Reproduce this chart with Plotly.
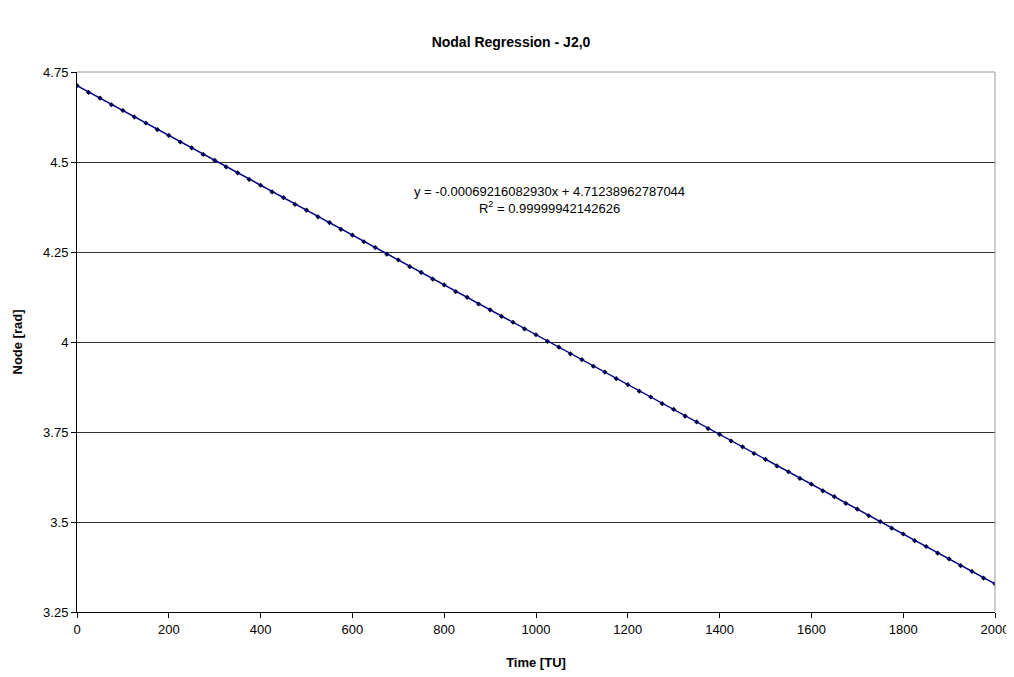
import plotly.graph_objects as go

time_tu = [0, 25, 50, 75, 100, 125, 150, 175, 200, 225, 250, 275, 300, 325, 350, 375,
           400, 425, 450, 475, 500, 525, 550, 575, 600, 625, 650, 675, 700, 725, 750,
           775, 800, 825, 850, 875, 900, 925, 950, 975, 1000, 1025, 1050, 1075, 1100,
           1125, 1150, 1175, 1200, 1225, 1250, 1275, 1300, 1325, 1350, 1375, 1400,
           1425, 1450, 1475, 1500, 1525, 1550, 1575, 1600, 1625, 1650, 1675, 1700,
           1725, 1750, 1775, 1800, 1825, 1850, 1875, 1900, 1925, 1950, 1975, 2000]
node_rad = [4.7124, 4.6935, 4.6776, 4.6590, 4.6430, 4.6248, 4.6084, 4.5902, 4.5738, 4.5555,
            4.5392, 4.5210, 4.5046, 4.4862, 4.4700, 4.4515, 4.4354, 4.4170, 4.4008, 4.3822,
            4.3662, 4.3478, 4.3316, 4.3131, 4.2970, 4.2785, 4.2624, 4.2440, 4.2278, 4.2093,
            4.1932, 4.1748, 4.1586, 4.1401, 4.1240, 4.1056, 4.0894, 4.0710, 4.0548, 4.0363,
            4.0202, 4.0018, 3.9856, 3.9671, 3.9510, 3.9326, 3.9164, 3.8980, 3.8818, 3.8633,
            3.8472, 3.8288, 3.8126, 3.7941, 3.7780, 3.7596, 3.7434, 3.7250, 3.7088, 3.6903,
            3.6742, 3.6558, 3.6396, 3.6211, 3.6050, 3.5866, 3.5704, 3.5520, 3.5358, 3.5173,
            3.5012, 3.4828, 3.4666, 3.4481, 3.4320, 3.4136, 3.3974, 3.3790, 3.3628, 3.3443,
            3.3283]

slope, intercept = -0.00069216082930, 4.71238962787044
fit_x = [0, 2000]
fit_y = [intercept + slope * v for v in fit_x]

fig = go.Figure()
fig.add_trace(go.Scatter(x=time_tu, y=node_rad, mode="markers",
                         marker=dict(symbol="diamond", size=4, color="#000022"),
                         showlegend=False))
fig.add_trace(go.Scatter(x=fit_x, y=fit_y, mode="lines",
                         line=dict(color="#000080", width=1.5), showlegend=False))

# gray frame on top and right, like the Excel plot area
fig.add_shape(type="line", xref="paper", yref="paper", x0=0, x1=1, y0=1, y1=1,
              line=dict(color="#9a9a9a", width=1))
fig.add_shape(type="line", xref="paper", yref="paper", x0=1, x1=1, y0=0, y1=1,
              line=dict(color="#9a9a9a", width=1))

fig.add_annotation(xref="paper", yref="paper", x=0.515, y=0.797,
                   text="y = -0.00069216082930x + 4.71238962787044<br>R<sup>2</sup> = 0.99999942142626",
                   showarrow=False, align="center",
                   font=dict(family="Liberation Sans, Arial", size=13, color="black"))

# the page body has an 8px margin, so the figure is shrunk by that much
fig.update_layout(
    title=dict(text="<b>Nodal Regression - J2,0</b>", x=0.5, xanchor="center",
               y=1 - 34 / 669, yanchor="middle",
               font=dict(family="Liberation Sans, Arial", size=14, color="black")),
    width=1006, height=669,
    margin=dict(l=69, r=19, t=64, b=65, autoexpand=False),
    plot_bgcolor="white", paper_bgcolor="white",
    font=dict(family="Liberation Sans, Arial", size=13, color="black"),
)
fig.update_xaxes(range=[0, 2000], dtick=200, tick0=0, automargin=False,
                 showline=True, linecolor="black", linewidth=1,
                 ticks="outside", ticklen=5, tickcolor="black",
                 showgrid=False, zeroline=False,
                 title=dict(text="<b>Time [TU]</b>", standoff=22,
                            font=dict(size=13)))
fig.update_yaxes(range=[3.25, 4.75], automargin=False,
                 tickvals=[3.25, 3.5, 3.75, 4, 4.25, 4.5, 4.75],
                 ticktext=["3.25", "3.5", "3.75", "4", "4.25", "4.5", "4.75"],
                 showline=True, linecolor="black", linewidth=1,
                 ticks="outside", ticklen=5, tickcolor="black",
                 showgrid=True, gridcolor="#333333", gridwidth=1, zeroline=False,
                 title=dict(text="<b>Node [rad]</b>", standoff=17,
                            font=dict(size=13)))

fig.write_html("out.html")
